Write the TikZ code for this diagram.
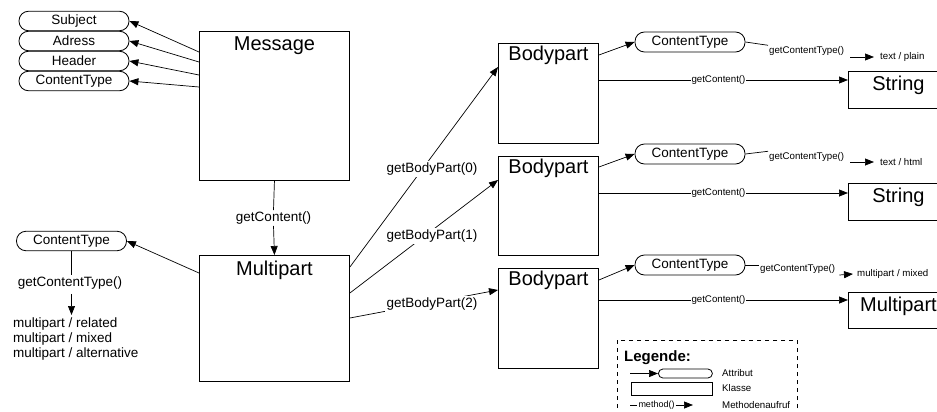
\documentclass[tikz,border=0pt]{standalone}
\usepackage{fontspec}
\setmainfont{Liberation Sans}
\usetikzlibrary{arrows.meta,calc}
\tikzset{
  cls/.style={draw, line width=0.9pt, inner sep=0pt, anchor=north west},
  ttl/.style={anchor=base, inner sep=0pt, font=\fontsize{20}{24}\selectfont},
  pill/.style={draw, line width=0.8pt, rounded corners=9.5pt, minimum width=110pt,
    minimum height=19.5pt, inner sep=0pt, font=\fontsize{13.5}{16}\selectfont},
  lbl/.style={fill=white, inner sep=1.5pt, font=\fontsize{13.5}{16}\selectfont},
  slbl/.style={fill=white, inner sep=1pt, font=\fontsize{9.7}{11}\selectfont},
  arr/.style={-{Triangle[length=9pt,width=7pt]}},
  conn/.style={line width=0.7pt},
}
\begin{document}
\begin{tikzpicture}[x=1pt,y=-1pt]
\useasboundingbox (0,0) rectangle (937,412);
\clip (0,0) rectangle (937,412);

% --- Message and its attributes
\node[cls, minimum width=150pt, minimum height=149pt] (msg) at (199,31) {};
\node[ttl] (msgT) at ([yshift=-19.5pt]msg.north) {Message};

\node[pill] (subj) at (74,21) {Subject};
\node[pill] (adr)  at (74,41) {Adress};
\node[pill] (hdr)  at (74,61) {Header};
\node[pill] (ctm)  at (74,81) {ContentType};
\draw[conn,arr] ([yshift=-21pt]msg.north west) -- (subj.east);
\draw[conn,arr] ([yshift=-31pt]msg.north west) -- (adr.east);
\draw[conn,arr] ([yshift=-44pt]msg.north west) -- (hdr.east);
\draw[conn,arr] ([yshift=-56pt]msg.north west) -- (ctm.east);

% --- Multipart
\node[cls, minimum width=150pt, minimum height=126pt] (mp) at (199,255) {};
\node[ttl] (mpT) at ([yshift=-20pt]mp.north) {Multipart};
\node[lbl] (gc) at (273.5,218) {getContent()};
\draw[conn] (msg.south) -- (gc.north);
\draw[conn,arr] (gc.south) -- (mp.north);

\node[pill] (ctl) at (71.5,241) {ContentType};
\draw[conn,arr] ([yshift=-18pt]mp.north west) -- (ctl.east);
\node[lbl] (gctl) at (70,283) {getContentType()};
\node[anchor=north west, align=left, inner sep=0pt,
      font=\fontsize{13.5}{15}\selectfont] (resl) at (13,318)
      {multipart / related\\multipart / mixed\\multipart / alternative};
\draw[conn] (ctl.south) -- (ctl.south |- gctl.north);
\draw[conn,arr] ([yshift=-3pt]ctl.south |- gctl.south) -- ([yshift=3pt]ctl.south |- resl.north);

% --- Body parts
\node[cls, minimum width=100pt, minimum height=100pt] (bp1) at (498,43) {};
\node[cls, minimum width=100pt, minimum height=99pt]  (bp2) at (498,156) {};
\node[cls, minimum width=100pt, minimum height=100pt] (bp3) at (498,268) {};
\node[ttl] at ([yshift=-17pt]bp1.north) {Bodypart};
\node[ttl] at ([yshift=-17pt]bp2.north) {Bodypart};
\node[ttl] at ([yshift=-17pt]bp3.north) {Bodypart};

\draw[conn,arr] ([yshift=-12pt]mp.north east) -- ([yshift=-24pt]bp1.north west);
\draw[conn,arr] ([yshift=-38pt]mp.north east) -- ([yshift=-24pt]bp2.north west);
\draw[conn,arr] ([yshift=-63pt]mp.north east) -- ([yshift=-22pt]bp3.north west);
\node[lbl] (gb0) at (432,169) {getBodyPart(0)};
\node[lbl] (gb1) at (432,236) {getBodyPart(1)};
\node[lbl] (gb2) at (432,304) {getBodyPart(2)};

% --- Content types of the body parts
\node[pill, minimum height=20pt] (ct1) at (690,42)  {ContentType};
\node[pill, minimum height=20pt] (ct2) at (690,154) {ContentType};
\node[pill, minimum height=20pt] (ct3) at (690,265) {ContentType};
\draw[conn,arr] ([yshift=-12pt]bp1.north east) -- (ct1.west);
\draw[conn,arr] ([yshift=-11pt]bp2.north east) -- (ct2.west);
\draw[conn,arr] ([yshift=-12pt]bp3.north east) -- (ct3.west);

\node[slbl, anchor=west] (g1) at (768,51)  {getContentType()};
\node[slbl, anchor=west] (g2) at (768,157) {getContentType()};
\node[slbl, anchor=west] (g3) at (759,269) {getContentType()};
\draw[conn] (ct1.east) -- (g1.north west);
\draw[conn] (ct2.east) -- (g2.north west);
\draw[conn] (ct3.east) -- (g3.west |- ct3.east);

\node[slbl, anchor=west] (r1) at (879,57)  {text / plain};
\node[slbl, anchor=west] (r2) at (879,162) {text / html};
\node[slbl, anchor=west] (r3) at (856,274) {multipart / mixed};
\draw[conn,arr] ([xshift=5pt,yshift=-6pt]g1.east) -- ([xshift=-5pt]r1.west);
\draw[conn,arr] ([xshift=5pt,yshift=-5pt]g2.east) -- ([xshift=-5pt]r2.west);
\draw[conn,arr] ([xshift=3pt,yshift=-6pt]g3.east) -- ([xshift=-3pt]r3.west);

% --- Contents of the body parts
\node[cls, minimum width=100pt, minimum height=37pt] (str1) at (848,71)  {};
\node[cls, minimum width=100pt, minimum height=37pt] (str2) at (848,183) {};
\node[cls, minimum width=100pt, minimum height=36pt] (mps)  at (848,292) {};
\node[ttl] at ([yshift=-19pt]str1.north) {String};
\node[ttl] at ([yshift=-19pt]str2.north) {String};
\node[ttl] at ([yshift=-19pt]mps.north)  {Multipart};

\draw[conn,arr] ([yshift=-37pt]bp1.north east) -- node[slbl, pos=0.48] {getContent()} ([yshift=-9pt]str1.north west);
\draw[conn,arr] ([yshift=-37pt]bp2.north east) -- node[slbl, pos=0.48] {getContent()} ([yshift=-10pt]str2.north west);
\draw[conn,arr] ([yshift=-32pt]bp3.north east) -- node[slbl, pos=0.48] {getContent()} ([yshift=-8pt]mps.north west);

% --- Legend
\draw[line width=0.7pt, dash pattern=on 4pt off 4pt] (617,340) rectangle (797,440);
\node[anchor=base west, inner sep=0pt, font=\bfseries\fontsize{15}{18}\selectfont] (lgT) at (624,361) {Legende:};
\node[draw, line width=0.8pt, rounded corners=4.5pt, minimum width=54pt, minimum height=9pt,
      inner sep=0pt, anchor=west] (lgP) at (658,373.5) {};
\coordinate (lgA) at (630,373.5);
\draw[conn,arr] (lgA) -- (lgP.west);
\node[slbl, anchor=west, fill=none] (lgAt) at (721,373) {Attribut};
\node[draw, line width=0.8pt, minimum width=81pt, minimum height=13pt, inner sep=0pt,
      anchor=north west] (lgK) at (631,382) {};
\node[slbl, anchor=west, fill=none] (lgKt) at (721,388) {Klasse};
\node[inner sep=1pt, font=\fontsize{9}{11}\selectfont] (lgM) at (656.5,405) {method()};
\coordinate (lm0) at (630,405);
\coordinate (lm1) at (693,405);
\draw[conn] (lm0) -- (lgM.west);
\draw[conn,arr] (lgM.east) -- (lm1);
\node[slbl, anchor=west, fill=none] (lgMt) at (721,405) {Methodenaufruf};
\end{tikzpicture}
\end{document}
